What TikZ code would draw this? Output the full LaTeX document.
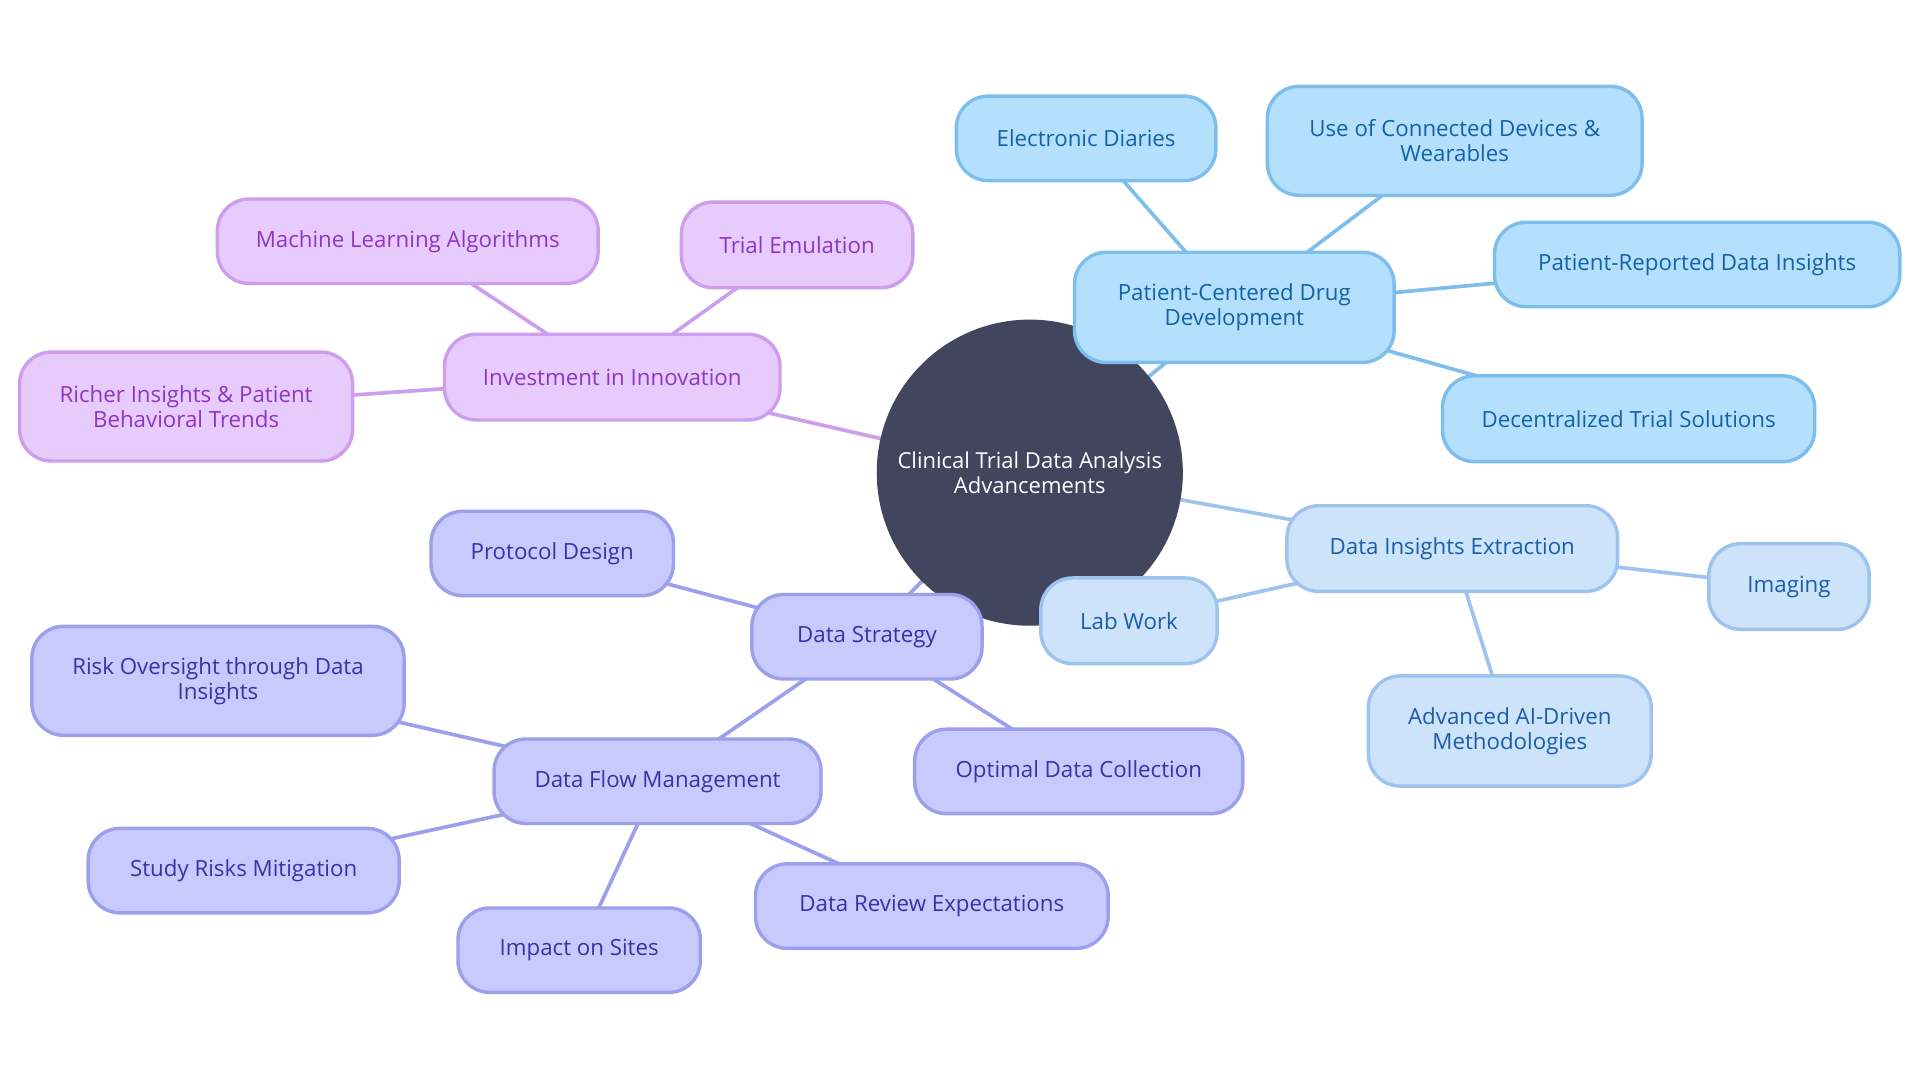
\documentclass[tikz,border=0pt]{standalone}
\usepackage{fontspec}
\setmainfont{Open Sans}
\usetikzlibrary{backgrounds}
\definecolor{ctrfill}{RGB}{65,69,94}
\definecolor{pcfill}{HTML}{B4E0FE}
\definecolor{pcline}{HTML}{7EBEED}
\definecolor{pctext}{HTML}{1262A8}
\definecolor{dxfill}{HTML}{CDE3FA}
\definecolor{dxline}{HTML}{9DC3EE}
\definecolor{dxtext}{HTML}{1A5DAA}
\definecolor{ivfill}{HTML}{E7CBFD}
\definecolor{ivline}{HTML}{CE9EEE}
\definecolor{ivtext}{HTML}{8E35C6}
\definecolor{dsfill}{HTML}{C8CAFE}
\definecolor{dsline}{HTML}{9C9FEB}
\definecolor{dstext}{HTML}{3334A8}
\tikzset{
  box/.style={rounded corners=26pt, line width=2.8pt, align=center, inner sep=0pt,
    font=\fontsize{18.2}{20.5}\selectfont},
  pcbox/.style={box, fill=pcfill, draw=pcline, text=pctext},
  dxbox/.style={box, fill=dxfill, draw=dxline, text=dxtext},
  ivbox/.style={box, fill=ivfill, draw=ivline, text=ivtext},
  dsbox/.style={box, fill=dsfill, draw=dsline, text=dstext},
  pcedge/.style={draw=pcline, line width=3pt},
  dxedge/.style={draw=dxline, line width=3pt},
  ivedge/.style={draw=ivline, line width=3pt},
  dsedge/.style={draw=dsline, line width=3pt},
}
\begin{document}
\begin{tikzpicture}[x=1pt,y=-1pt]
\useasboundingbox (0,0) rectangle (1568,882);
% center
\node[circle, fill=ctrfill, minimum size=250pt, inner sep=0pt, align=center, text=white,
  font=\fontsize{18}{20.5}\selectfont] (ctr) at (841,386) {Clinical Trial Data Analysis\\Advancements};
% patient-centered group
\node[pcbox, minimum width=261pt, minimum height=90pt] (pcd) at (1008,251) {Patient-Centered Drug\\Development};
\node[pcbox, minimum width=212pt, minimum height=69pt] (ed) at (887,113) {Electronic Diaries};
\node[pcbox, minimum width=306pt, minimum height=89pt] (ucd) at (1188,115) {Use of Connected Devices \&\\Wearables};
\node[pcbox, minimum width=331pt, minimum height=69pt] (prd) at (1386,216) {Patient-Reported Data Insights};
\node[pcbox, minimum width=304pt, minimum height=70pt] (dts) at (1330,342) {Decentralized Trial Solutions};
% data insights group
\node[dxbox, minimum width=270pt, minimum height=70pt] (die) at (1186,448) {Data Insights Extraction};
\node[dxbox, minimum width=131pt, minimum height=70pt] (img) at (1461,479) {Imaging};
\node[dxbox, minimum width=144pt, minimum height=70pt] (lab) at (922,507) {Lab Work};
\node[dxbox, minimum width=231pt, minimum height=90pt] (aai) at (1233,597) {Advanced AI-Driven\\Methodologies};
% investment group
\node[ivbox, minimum width=274pt, minimum height=70pt] (inv) at (500,308) {Investment in Innovation};
\node[ivbox, minimum width=311pt, minimum height=69pt] (mla) at (333,197) {Machine Learning Algorithms};
\node[ivbox, minimum width=189pt, minimum height=70pt] (tem) at (651,200) {Trial Emulation};
\node[ivbox, minimum width=272pt, minimum height=89pt] (rip) at (152,332) {Richer Insights \& Patient\\Behavioral Trends};
% data strategy group
\node[dsbox, minimum width=188pt, minimum height=69pt] (dst) at (708,520) {Data Strategy};
\node[dsbox, minimum width=198pt, minimum height=69pt] (pro) at (451,452) {Protocol Design};
\node[dsbox, minimum width=268pt, minimum height=69pt] (odc) at (881,630) {Optimal Data Collection};
\node[dsbox, minimum width=267pt, minimum height=69pt] (dfm) at (537,638) {Data Flow Management};
\node[dsbox, minimum width=304pt, minimum height=89pt] (ros) at (178,556) {Risk Oversight through Data\\Insights};
\node[dsbox, minimum width=254pt, minimum height=69pt] (srm) at (199,711) {Study Risks Mitigation};
\node[dsbox, minimum width=198pt, minimum height=69pt] (ios) at (473,776) {Impact on Sites};
\node[dsbox, minimum width=288pt, minimum height=69pt] (dre) at (761,740) {Data Review Expectations};
% edges
\begin{scope}[on background layer]
\fill[white] (0,0) rectangle (1568,882);
\draw[pcedge] (ctr.center) -- (pcd.center);
\draw[pcedge] (pcd.center) -- (ed.center);
\draw[pcedge] (pcd.center) -- (ucd.center);
\draw[pcedge] (pcd.center) -- (prd.center);
\draw[pcedge] (pcd.center) -- (dts.center);
\draw[dxedge] (ctr.center) -- (die.center);
\draw[dxedge] (die.center) -- (img.center);
\draw[dxedge] (die.center) -- (lab.center);
\draw[dxedge] (die.center) -- (aai.center);
\draw[ivedge] (ctr.center) -- (inv.center);
\draw[ivedge] (inv.center) -- (mla.center);
\draw[ivedge] (inv.center) -- (tem.center);
\draw[ivedge] (inv.center) -- (rip.center);
\draw[dsedge] (ctr.center) -- (dst.center);
\draw[dsedge] (dst.center) -- (pro.center);
\draw[dsedge] (dst.center) -- (odc.center);
\draw[dsedge] (dst.center) -- (dfm.center);
\draw[dsedge] (dfm.center) -- (ros.center);
\draw[dsedge] (dfm.center) -- (srm.center);
\draw[dsedge] (dfm.center) -- (ios.center);
\draw[dsedge] (dfm.center) -- (dre.center);
\end{scope}
\end{tikzpicture}
\end{document}
